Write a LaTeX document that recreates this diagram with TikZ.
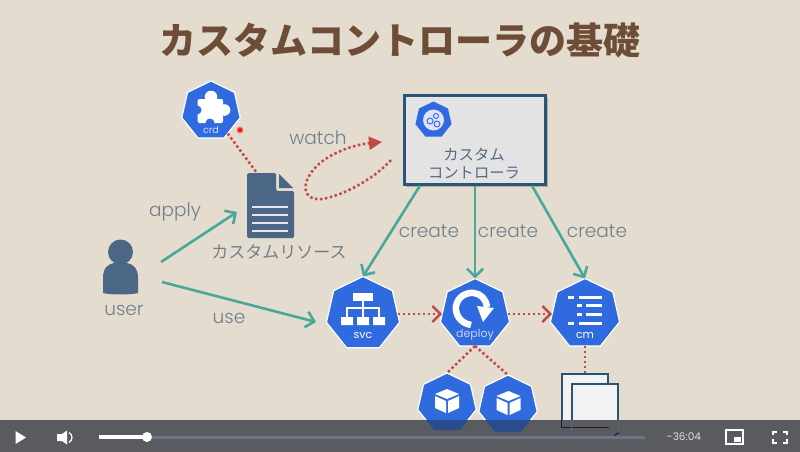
\documentclass[tikz,border=0pt]{standalone}
\usepackage{fontspec}
\newfontfamily\cjk{Noto Sans CJK JP}
\newfontfamily\lat[UprightFont={* Light}]{Poppins}
\newfontfamily\latr{Poppins}
\usetikzlibrary{shapes.geometric,arrows.meta,calc}
\definecolor{bgc}{HTML}{E3DCCF}
\definecolor{kblue}{HTML}{2F6BDE}
\definecolor{kdark}{HTML}{2B4C8C}
\definecolor{teal}{HTML}{4BA898}
\definecolor{redd}{HTML}{BF4A46}
\definecolor{slate}{HTML}{4C6685}
\definecolor{lab}{HTML}{717F89}
\definecolor{barc}{HTML}{595B5E}
\definecolor{track}{HTML}{68768A}
\definecolor{titlec}{HTML}{6E4D36}
\definecolor{boxline}{HTML}{2A5578}
\tikzset{
  hept/.style={shape=regular polygon,regular polygon sides=7,fill=kblue,draw=white,line width=1.2pt,inner sep=0pt,outer sep=0pt},
  labeltext/.style={font=\lat\fontsize{18.5}{21}\selectfont,text=lab,inner sep=0pt},
  jptext/.style={font=\cjk\fontsize{17}{20}\selectfont,text=lab,inner sep=0pt},
  hepttext/.style={font=\latr\fontsize{11}{13}\selectfont,text=white,inner sep=0pt},
  tealarrow/.style={draw=teal,line width=2.6pt,-{Straight Barb[length=8pt,width=16pt]}},
  reddots/.style={draw=redd,line width=2.5pt,dash pattern=on 2.5pt off 2.5pt},
  redarrow/.style={reddots,-{Straight Barb[length=8pt,width=16pt]}},
  papernode/.style={fill=black!5,draw=boxline,line width=1.6pt,minimum width=46pt,minimum height=53pt,inner sep=0pt},
}
\begin{document}
\begin{tikzpicture}[x=1pt,y=-1pt]
\useasboundingbox (0,0) rectangle (800,452);
\fill[bgc] (0,0) rectangle (800,452);
% title
\node[font=\cjk\bfseries\fontsize{37}{40}\selectfont,text=titlec,inner sep=0pt] (title) at (400,40) {カスタムコントローラの基礎};

% crd
\node[hept,minimum size=60pt] (crd) at (211,111) {};
\fill[white,rounded corners=1.5pt] (197.5,99) rectangle (223,123);
\fill[white] (211,97) circle (6.3);
\fill[white] (224.5,110) circle (5.8);
\fill[kblue] (197,110) circle (4.5);
\fill[kblue] (210,123) circle (4.5);
\node[hepttext,font=\latr\fontsize{9.5}{11}\selectfont,text=white!85!blue] (crdt) at (211,130) {crd};

% document
\node[inner sep=0pt,minimum width=47pt,minimum height=65pt] (doc) at (270.5,205.5) {};
\fill[slate,rounded corners=1.5pt] (247,173) -- (276,173) -- (276,191) -- (294,191) -- (294,238) -- (247,238) -- cycle;
\fill[slate] (279,174) -- (293,188) -- (279,188) -- cycle;
\foreach \yy in {207,215,223,231}
  \draw[white!85!slate,line width=2pt] (252,\yy) -- (288,\yy);
\node[jptext] (doct) at (279,252) {カスタムリソース};
\coordinate (docin) at ($(doc.north west)+(10,0)$);
\draw[reddots] (crd) -- (docin);
\fill[red!50!bgc] (240,130) circle (3.4);
\fill[red!85!orange] (240,130) circle (2);

% controller
\fill[black!45,opacity=.6] (406,97) rectangle (548,187);
\node[fill=black!11,draw=boxline,line width=2.3pt,minimum width=141pt,minimum height=89pt,inner sep=0pt] (ctrl) at (475,140) {};
\node[hept,minimum size=37pt,draw=none] (ctico) at (433.5,120) {};
\fill[white!88!blue] (433.5,120) circle (10.5);
\draw[kblue,line width=.9pt] (430,121) circle (3) (436,116) circle (2.5) (437,124) circle (3);
\node[jptext,text=slate!85!lab,font=\cjk\fontsize{15.3}{18}\selectfont] (ct1) at (474,155) {カスタム};
\node[jptext,text=slate!85!lab,font=\cjk\fontsize{15.3}{18}\selectfont] (ct2) at (474,173) {コントローラ};

% watch
\coordinate (wa) at (391,160);
\coordinate (wb) at (382,142);
\draw[reddots,-{Triangle[length=13pt,width=13pt]}] (wa) .. controls (375,178) and (345,195) .. (322,199)
  .. controls (303,201) and (300,184) .. (315,168) .. controls (325,156) and (350,145) .. (wb);
\node[labeltext] (watch) at (318,138) {watch};

% user
\node[inner sep=0pt,minimum width=35pt,minimum height=54pt] (usr) at (120.5,266) {};
\fill[slate] (120.5,252) circle (12.5);
\fill[slate] (103,293) -- (103,278) .. controls (103,268) and (108,264) .. (114,263) -- (127,263)
  .. controls (133,264) and (138,268) .. (138,278) -- (138,293) .. controls (130,295) and (111,295) .. (103,293) -- cycle;
\node[labeltext] (usert) at (124,310) {user};

% services
\node[hept,minimum size=75pt] (svc) at (363,314) {};
\node[hept,minimum size=71pt] (deploy) at (475,314) {};
\node[hept,minimum size=71pt] (cm) at (585,314) {};
\node[hept,minimum size=60pt] (pod1) at (447,403) {};
\node[hept,minimum size=60pt] (pod2) at (508,405) {};

% svc icon
\fill[white] (353,293) rectangle (373,301);
\fill[white] (341,317) rectangle (353,325) (357,317) rectangle (369,325) (373,317) rectangle (385,325);
\draw[white,line width=1.3pt] (363,301) -- (363,317) (347,317) -- (347,308) -- (379,308) -- (379,317);
\node[hepttext] (svct) at (363,335) {svc};

% deploy icon
\draw[white,line width=6.5pt] (471,325) .. controls (459,323) and (455,313) .. (456,306)
  .. controls (458,296) and (467,292) .. (474,293) .. controls (481,294) and (486,299) .. (487,307);
\fill[white] (477,306) -- (494,308) -- (483,322) -- cycle;
\node[hepttext,text=white!80!blue] (dept) at (475,335) {deploy};

% cm icon
\foreach \yy in {297,323}{
  \fill[white] (568,\yy-1.5) rectangle (574,\yy+1.5);
  \fill[white] (579,\yy-1.5) rectangle (602,\yy+1.5);}
\foreach \yy in {305,314}{
  \fill[white] (577,\yy-1.5) rectangle (582,\yy+1.5);
  \fill[white] (586,\yy-1.5) rectangle (602,\yy+1.5);}
\node[hepttext] (cmt) at (585,335) {cm};

% pod icons
\foreach \xx/\yy in {447/401,508.5/403}{
  \fill[white] (\xx,\yy-12) -- (\xx+12,\yy-7) -- (\xx,\yy-2) -- (\xx-12,\yy-7) -- cycle;
  \fill[white] (\xx-12,\yy-5) -- (\xx-1,\yy) -- (\xx-1,\yy+12) -- (\xx-12,\yy+7) -- cycle;
  \fill[white] (\xx+12,\yy-5) -- (\xx+1,\yy) -- (\xx+1,\yy+12) -- (\xx+12,\yy+7) -- cycle;
}

% sheets
\node[papernode] (sh1) at (585,400.5) {};
\node[papernode] (sh2) at (595,410.5) {};

% connectors
\coordinate (cl) at ($(ctrl.south)+(-55,0)$);
\coordinate (cr) at ($(ctrl.south)+(57,0)$);
\coordinate (apA) at (161,262);
\coordinate (apB) at (237,212);
\coordinate (usA) at (162,282);
\coordinate (usB) at (316,322);
\draw[tealarrow] (cl) -- (svc.north);
\draw[tealarrow] (ctrl.south) -- (deploy.north);
\draw[tealarrow] (cr) -- (cm.north);
\draw[tealarrow] (apA) -- (apB);
\draw[tealarrow] (usA) -- (usB);
\draw[redarrow] (svc) -- (deploy);
\draw[redarrow] (deploy) -- (cm);
\draw[reddots] (deploy.south) -- (pod1.north);
\draw[reddots] (deploy.south) -- (pod2.north);
\draw[reddots] (cm.south) -- (sh1.north);

% labels
\node[labeltext] (apply) at (175,212) {apply};
\node[labeltext] (use) at (229,318) {use};
\node[labeltext] (cr1) at (429,231) {create};
\node[labeltext] (cr2) at (508,231) {create};
\node[labeltext] (cr3) at (597,231) {create};

% player bar
\fill[barc] (0,420) rectangle (800,452);
\begin{scope}
\clip (0,420) rectangle (800,452);
\fill[kdark] (pod1.corner 3) -- (pod1.corner 4) -- (pod1.corner 5) -- (pod1.corner 6) -- cycle;
\fill[kdark] (pod2.corner 3) -- (pod2.corner 4) -- (pod2.corner 5) -- (pod2.corner 6) -- cycle;
\draw[black!70!slate,line width=1.3pt] (sh1.south west) -- (sh1.south east);
\draw[black!70!slate,line width=1.3pt] (sh1.north west) -- (sh1.south west);
\draw[slate,line width=1pt] (sh2.north west) -- (sh2.south west) -- (sh2.south east) -- (sh2.north east);
\draw[black!70!slate,line width=1pt] ($(sh2.south east)+(-5,0)$) .. controls ($(sh2.south east)+(-5,-3)$) and ($(sh2.south east)+(-2,-4)$) .. ($(sh2.south east)+(0,-5)$);
\end{scope}
\fill[track] (99,435.5) rectangle (645,439);
\draw[white,line width=3.5pt] (99,437) -- (147,437);
\fill[white] (147,437) circle (5);
\fill[white] (15.5,431) -- (26,437.5) -- (15.5,444) -- cycle;
\fill[white] (57,434) -- (62,434) -- (67,430.5) -- (67,444.5) -- (62,441) -- (57,441) -- cycle;
\draw[white,line width=1.2pt] (69,432.5) .. controls (73,435) and (73,440) .. (69,442.5);
\node[font=\latr\fontsize{10.5}{12}\selectfont,text=white!88!black,inner sep=0pt] (tm) at (684,437) {-36:04};
\draw[white,line width=1.8pt] (726,430) rectangle (743,444);
\fill[white] (734,437) rectangle (741,442);
\draw[white,line width=2pt] (773,435) -- (773,431.5) -- (777,431.5) (783,431.5) -- (787,431.5) -- (787,435)
  (787,439) -- (787,443) -- (783,443) (777,443) -- (773,443) -- (773,439);
\end{tikzpicture}
\end{document}
